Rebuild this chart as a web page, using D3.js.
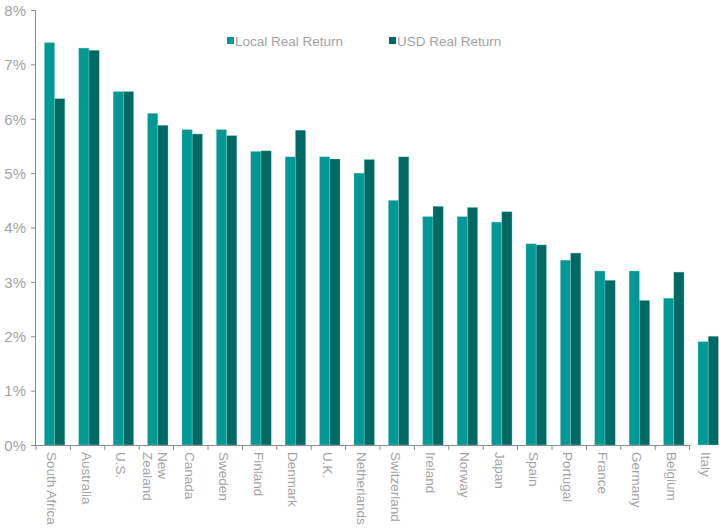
<!DOCTYPE html>
<html>
<head>
<meta charset="utf-8">
<script src="https://cdn.jsdelivr.net/npm/d3@7"></script>
<style>
  html, body { margin: 0; padding: 0; background: #fff; }
  svg { display: block; font-family: "Liberation Sans", Arial, sans-serif; }
</style>
</head>
<body>
<svg id="chart" width="719" height="528"></svg>
<script>
// Real equity returns by market, local currency vs. US dollar (annualised, %)
const countries = ["South Africa", "Australia", "U.S.", "New Zealand", "Canada", "Sweden",
  "Finland", "Denmark", "U.K.", "Netherlands", "Switzerland", "Ireland", "Norway", "Japan",
  "Spain", "Portugal", "France", "Germany", "Belgium", "Italy"];
const localReal = [7.4, 7.3, 6.5, 6.1, 5.8, 5.8, 5.4, 5.3, 5.3, 5.0, 4.5, 4.2, 4.2, 4.1, 3.7, 3.4, 3.2, 3.2, 2.7, 1.9];
const usdReal   = [6.37, 7.26, 6.5, 5.88, 5.72, 5.69, 5.41, 5.79, 5.26, 5.25, 5.3, 4.39, 4.37, 4.29, 3.68, 3.53, 3.03, 2.66, 3.18, 2.0];
const seriesNames = ["Local Real Return", "USD Real Return"];
const seriesColors = ["#009995", "#006964"];
const yTicks = [0, 1, 2, 3, 4, 5, 6, 7, 8];

const svg = d3.select("#chart");
const plotLeft = 36, plotTop = 10, plotBottom = 445;
const step = 34.4;

const x0 = d3.scaleBand().domain(countries).range([plotLeft, plotLeft + step * countries.length]).padding(0);
const x1 = d3.scaleBand().domain(seriesNames).range([0, x0.bandwidth()])
  .paddingInner(0).paddingOuter(0.68).align(0.6);
const y = d3.scaleLinear().domain([0, 8]).range([plotBottom, plotTop]);

const rows = countries.map((c, i) => ({ country: c, values: [localReal[i], usdReal[i]] }));

// bars
const groups = svg.append("g").selectAll("g").data(rows).join("g")
  .attr("transform", d => `translate(${x0(d.country)},0)`);
groups.selectAll("rect").data(d => d.values.map((v, j) => ({ v, s: seriesNames[j], c: seriesColors[j] })))
  .join("rect")
  .attr("x", d => x1(d.s))
  .attr("width", x1.bandwidth())
  .attr("y", d => y(d.v))
  .attr("height", d => y(0) - y(d.v))
  .attr("fill", d => d.c)
  .attr("stroke", "#8fd0cd")
  .attr("stroke-width", 0.6)
  .attr("stroke-opacity", 0.6);

// y axis
const yAxis = d3.axisLeft(y).tickValues(yTicks).tickFormat(d => d + "%").tickSize(5).tickPadding(5);
const gy = svg.append("g").attr("transform", `translate(${plotLeft},0)`).call(yAxis);
gy.select(".domain").attr("stroke", "#8c8c8c").attr("d", `M-0.5,${plotTop}V${plotBottom}`);
gy.selectAll(".tick line").attr("stroke", "#8c8c8c");
gy.selectAll(".tick text").attr("fill", "#a3a3a3").attr("font-size", 15).attr("dy", "0.35em");

// x axis baseline with ticks at category boundaries
const gx = svg.append("g");
const starts = countries.map(c => x0(c));
gx.append("line")
  .attr("x1", plotLeft).attr("x2", d3.max(starts))
  .attr("y1", plotBottom + 0.5).attr("y2", plotBottom + 0.5)
  .attr("stroke", "#8c8c8c");
gx.selectAll("line.tk").data(starts).join("line").attr("class", "tk")
  .attr("x1", d => d).attr("x2", d => d)
  .attr("y1", plotBottom).attr("y2", plotBottom + 5)
  .attr("stroke", "#8c8c8c");

// rotated category labels (multi-word names wrap onto two lines)
const labelLines = { "New Zealand": ["New", "Zealand"] };
const labels = gx.selectAll("text.lbl").data(countries).join("text").attr("class", "lbl")
  .attr("transform", c => `translate(${x0(c) + x0.bandwidth() / 2 - 1},452) rotate(90)`)
  .attr("fill", "#a3a3a3")
  .attr("font-size", 13.5)
  .attr("text-anchor", "start");
labels.each(function (c) {
  const lines = labelLines[c] || [c];
  const t = d3.select(this);
  const off = (lines.length - 1) * 0.55;
  lines.forEach((ln, i) => {
    t.append("tspan").attr("x", 0).attr("y", 0)
      .attr("dy", (0.35 - off + i * 1.1) + "em").text(ln);
  });
});

// legend
const legend = svg.append("g").attr("font-size", 13.5);
const legendX = [227, 389];
seriesNames.forEach((s, i) => {
  legend.append("rect").attr("x", legendX[i]).attr("y", 37).attr("width", 7).attr("height", 7)
    .attr("fill", seriesColors[i]);
  legend.append("text").attr("x", legendX[i] + 8).attr("y", 45.5)
    .attr("fill", "#a3a3a3").text(s);
});
</script>
</body>
</html>
